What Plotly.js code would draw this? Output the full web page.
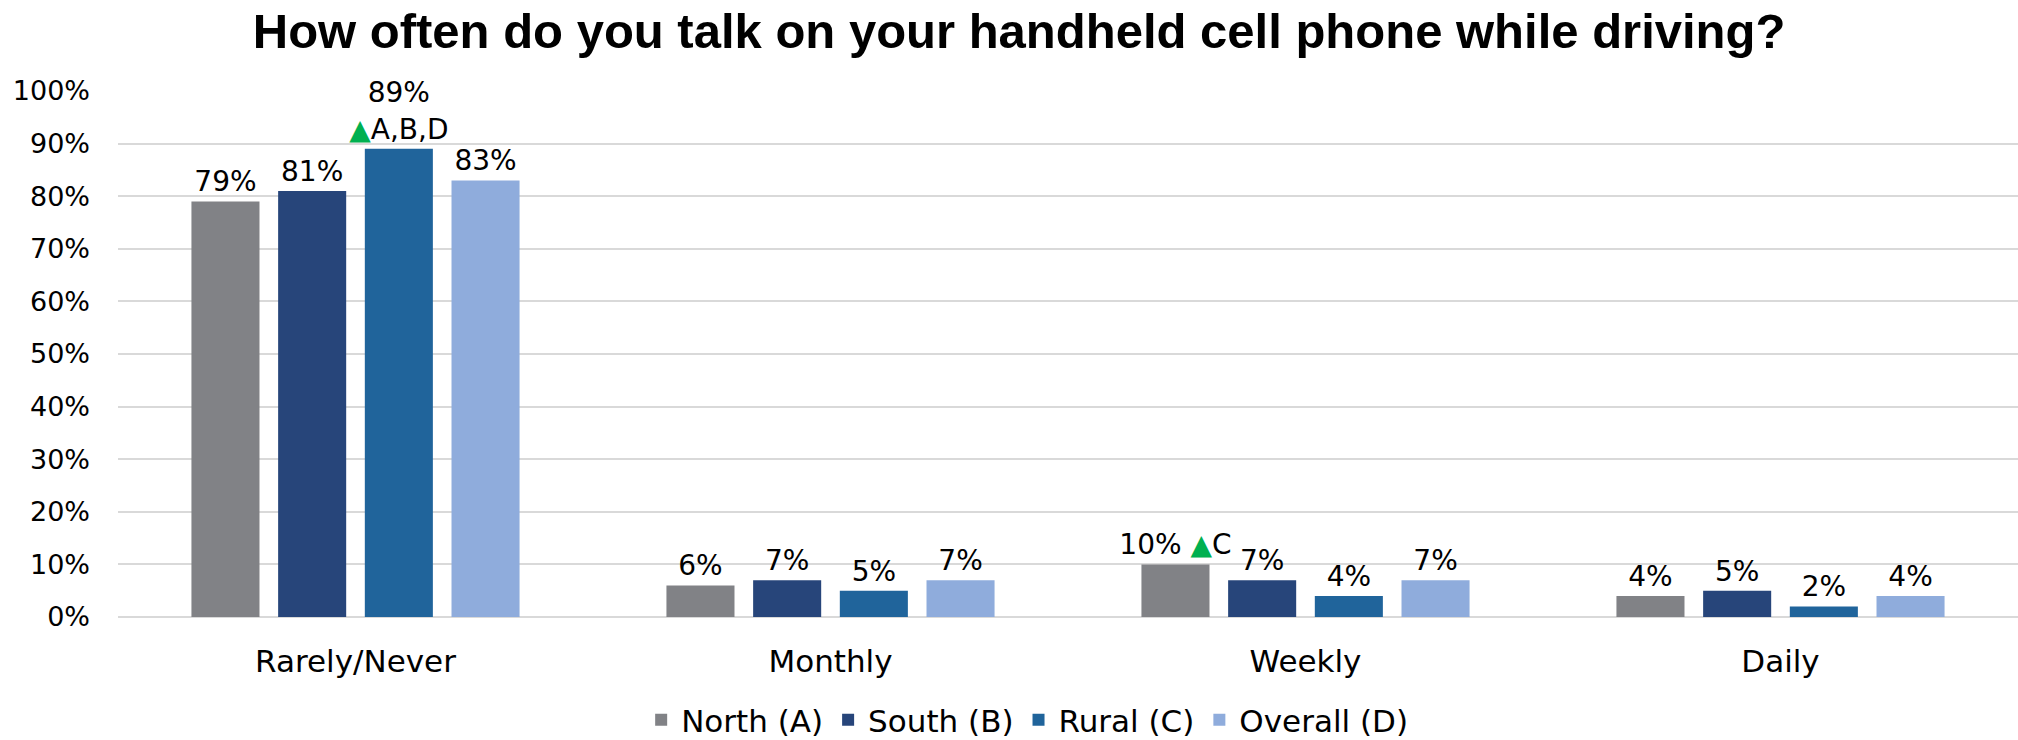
<!DOCTYPE html>
<html>
<head>
<meta charset="utf-8">
<script src="https://cdn.plot.ly/plotly-3.0.1.min.js"></script>
<style>
  html, body { margin: 0; padding: 0; background: #fff; }
  #chart { width: 2018px; height: 740px; }
</style>
</head>
<body>
<div id="chart"></div>
<script>
const categories = ['Rarely/Never', 'Monthly', 'Weekly', 'Daily'];
const seriesNames = ['North (A)', 'South (B)', 'Rural (C)', 'Overall (D)'];
const north = [79, 6, 10, 4];
const south = [81, 7, 7, 5];
const rural = [89, 5, 4, 2];
const overall = [83, 7, 7, 4];
const northSig = ['', '', 'C', ''];
const southSig = ['', '', '', ''];
const ruralSig = ['A,B,D', '', '', ''];
const overallSig = ['', '', '', ''];

const colors = ['#818286', '#27457A', '#20649B', '#8FACDC'];
const seps = [' ', ' ', '<br>', ' '];
const green = '#00B050';
const fontFam = 'DejaVu Sans, Liberation Sans, sans-serif';

function labels(vals, sig, sep) {
  return vals.map((v, i) => v + '%' + (sig[i] ? sep + '<span style="color:' + green + '">▲</span>' + sig[i] : ''));
}

const allVals = [north, south, rural, overall];
const allSig = [northSig, southSig, ruralSig, overallSig];

const traces = allVals.map((vals, k) => ({
  type: 'bar',
  name: seriesNames[k],
  x: categories,
  y: vals,
  marker: { color: colors[k] },
  text: labels(vals, allSig[k], seps[k]),
  textposition: 'outside',
  texttemplate: '%{text}',
  constraintext: 'none',
  cliponaxis: false,
  textfont: { family: fontFam, size: 28, color: '#000' },
  hoverinfo: 'none'
}));

const layout = {
  width: 2018,
  height: 740,
  margin: { l: 118, r: 0, t: 91, b: 123 },
  paper_bgcolor: '#fff',
  plot_bgcolor: '#fff',
  font: { family: fontFam, color: '#000', size: 26 },
  title: {
    text: '<b>How often do you talk on your handheld cell phone while driving?</b>',
    font: { family: 'Liberation Sans, Arial, sans-serif', size: 49, color: '#000' },
    x: 0.505, xanchor: 'center',
    y: 0.958, yanchor: 'middle', yref: 'container'
  },
  barmode: 'group',
  bargap: 0.27,
  bargroupgap: 0.215,
  xaxis: {
    type: 'category',
    tickfont: { family: fontFam, size: 31, color: '#000' },
    showgrid: false,
    showline: false,
    zeroline: false,
    ticks: '',
    ticklabelstandoff: 23
  },
  yaxis: {
    range: [0, 100],
    dtick: 10,
    ticksuffix: '%',
    tickfont: { family: fontFam, size: 27, color: '#000' },
    showgrid: true,
    gridcolor: '#D9D9D9',
    gridwidth: 2,
    zeroline: true,
    zerolinecolor: '#D9D9D9',
    zerolinewidth: 2,
    showline: false,
    ticks: '',
    ticklabelstandoff: 27,
    fixedrange: true
  },
  showlegend: true,
  legend: {
    orientation: 'h',
    xref: 'container', yref: 'container',
    x: 0.509, xanchor: 'center',
    y: 0.027, yanchor: 'middle',
    font: { family: fontFam, size: 31, color: '#000' },
    itemwidth: 30,
    traceorder: 'normal'
  }
};

Plotly.newPlot('chart', traces, layout, { displayModeBar: false, staticPlot: true });
</script>
</body>
</html>
